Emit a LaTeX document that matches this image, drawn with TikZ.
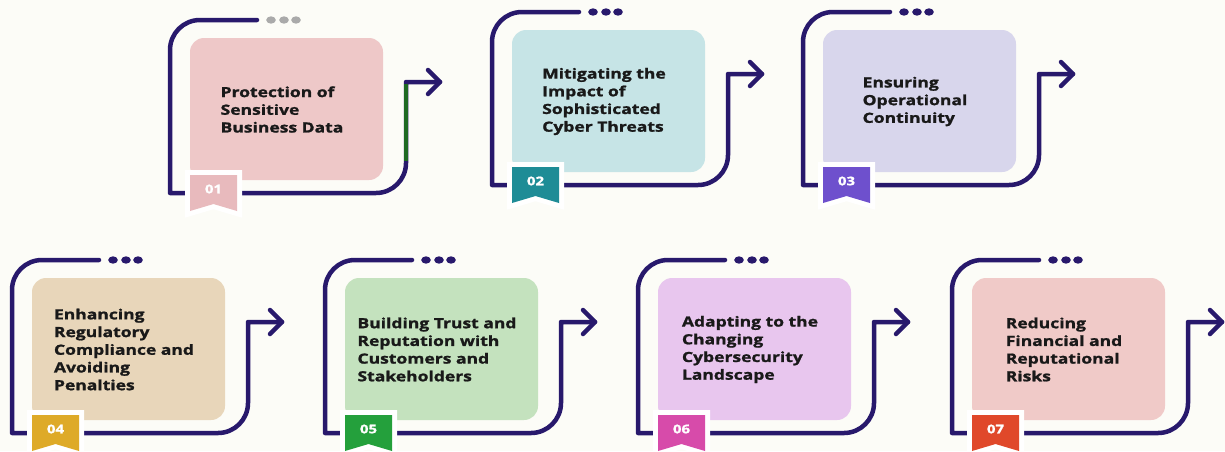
\documentclass[tikz,border=0pt]{standalone}
\usepackage{fontspec}
\setmainfont[FakeStretch=1.25, BoldFeatures={FakeBold=1.3}]{Open Sans}

% palette
\definecolor{pageBg}{RGB}{252,252,247}
\definecolor{frameNavy}{RGB}{40,25,108}
\definecolor{frameGreen}{RGB}{30,105,35}
\definecolor{dotGrey}{RGB}{170,170,170}
\definecolor{inkDark}{RGB}{25,25,25}
\definecolor{boxOne}{RGB}{238,200,200}   \definecolor{tagOne}{RGB}{232,186,189}
\definecolor{boxTwo}{RGB}{198,228,230}   \definecolor{tagTwo}{RGB}{30,140,150}
\definecolor{boxThree}{RGB}{216,214,236} \definecolor{tagThree}{RGB}{110,80,205}
\definecolor{boxFour}{RGB}{232,214,186}  \definecolor{tagFour}{RGB}{222,170,40}
\definecolor{boxFive}{RGB}{196,226,190}  \definecolor{tagFive}{RGB}{36,160,60}
\definecolor{boxSix}{RGB}{232,198,238}   \definecolor{tagSix}{RGB}{215,75,170}
\definecolor{boxSeven}{RGB}{240,202,200} \definecolor{tagSeven}{RGB}{224,72,42}

\tikzset{
  cardframe/.style={draw=frameNavy, line width=4.5pt, line cap=round, line join=round},
  cardtext/.style={align=left, text=inkDark, font=\fontsize{14}{17.7}\selectfont\bfseries},
  tagtext/.style={text=white, font=\fontsize{12}{12}\selectfont\bfseries}
}

% one card: #1 left, #2 top (px, downwards), #3 box, #4 tag, #5 dots, #6 number, #7 text
\newcommand{\benefitcard}[7]{%
  \begin{scope}[shift={(#1,-#2)}]
    % body
    \fill[#3, rounded corners=14pt] (0,0) rectangle (193,-142);
    \node[cardtext] (text#6) at (92,-71.5) {#7};
    % frame line and arrow
    \draw[cardframe] (67,18) -- (10,18) arc[start angle=90, end angle=180, radius=30]
      -- (-20,-155) -- (186,-155) arc[start angle=-90, end angle=0, radius=30]
      -- (216,-44) -- (250,-44);
    \draw[cardframe] (238,-32) -- (250,-44) -- (238,-56);
    % three dots
    \foreach \dx in {81,94,106}
      \fill[#5] (\dx,18) ellipse [x radius=4.8, y radius=3.7];
    % number tag
    \path[draw=white, fill=white, line width=10pt, line join=miter]
      (0,-137) -- (47,-137) -- (47,-173) -- (23.5,-166) -- (0,-173) -- cycle;
    \fill[#4] (0,-137) -- (47,-137) -- (47,-173) -- (23.5,-166) -- (0,-173) -- cycle;
    \node[tagtext] (tag#6) at (23.5,-151) {#6};
  \end{scope}}

\begin{document}
\begin{tikzpicture}[x=1pt, y=1pt]
\useasboundingbox (0,0) rectangle (1225,-451);
\fill[pageBg] (0,0) rectangle (1225,-451);

% top row
\benefitcard{190}{38}{boxOne}{tagOne}{dotGrey}{01}{Protection of\\Sensitive\\Business Data}
\benefitcard{512}{30}{boxTwo}{tagTwo}{frameNavy}{02}{Mitigating the\\Impact of\\Sophisticated\\Cyber Threats}
\benefitcard{823}{30}{boxThree}{tagThree}{frameNavy}{03}{Ensuring\\Operational\\Continuity}

% bottom row
\benefitcard{32}{278}{boxFour}{tagFour}{frameNavy}{04}{Enhancing\\Regulatory\\Compliance and\\Avoiding\\Penalties}
\benefitcard{345}{278}{boxFive}{tagFive}{frameNavy}{05}{Building Trust and\\Reputation with\\Customers and\\Stakeholders}
\benefitcard{658}{278}{boxSix}{tagSix}{frameNavy}{06}{Adapting to the\\Changing\\Cybersecurity\\Landscape}
\benefitcard{972}{278}{boxSeven}{tagSeven}{frameNavy}{07}{Reducing\\Financial and\\Reputational\\Risks}

% green stretch on the first frame
\draw[cardframe, draw=frameGreen, line cap=butt] (406,-84) -- (406,-161);
\end{tikzpicture}
\end{document}
